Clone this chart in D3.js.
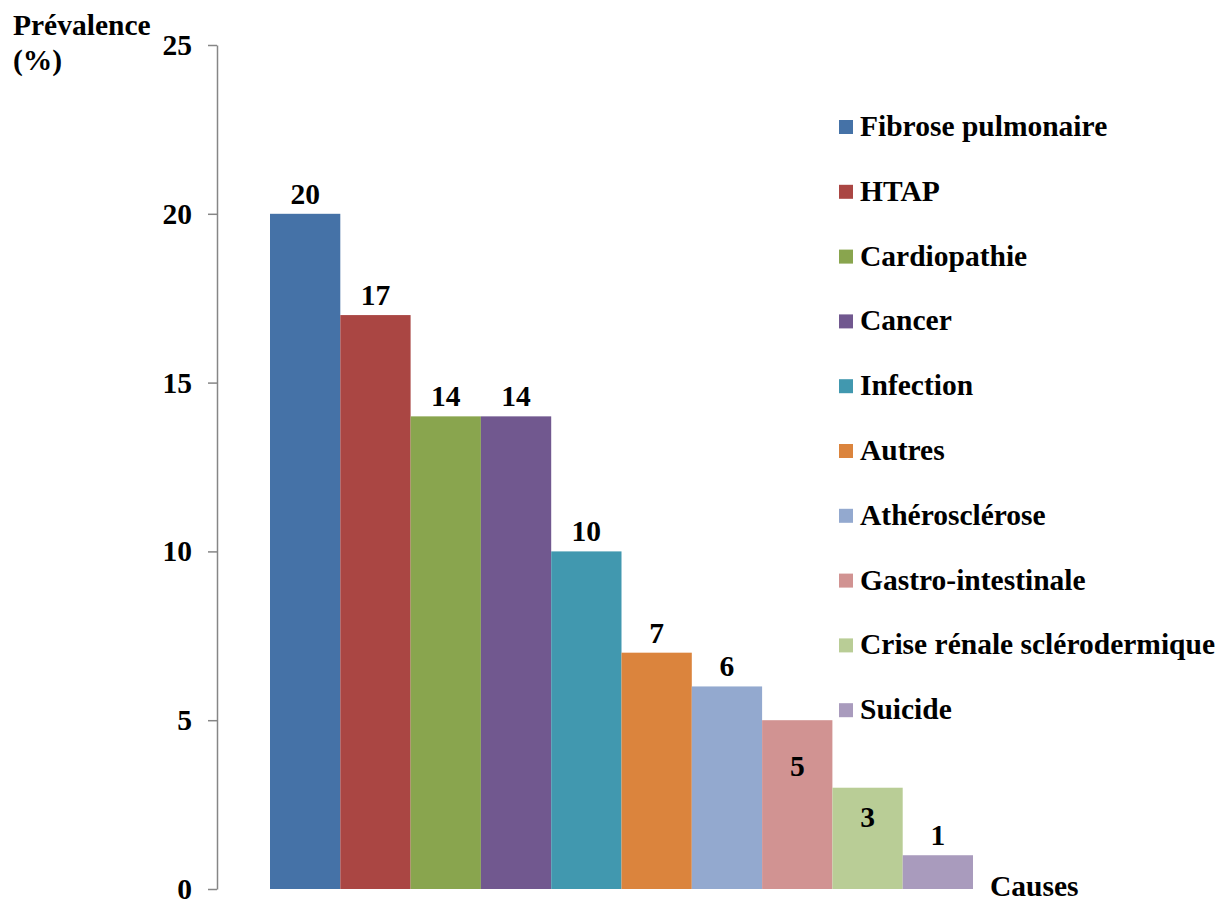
<!DOCTYPE html>
<html>
<head>
<meta charset="utf-8">
<script src="https://cdn.jsdelivr.net/npm/d3@7"></script>
<style>
  body { margin: 0; background: #fff; }
  text { font-family: "Liberation Serif", "Times New Roman", serif; font-weight: bold; fill: #000; }
</style>
</head>
<body>
<svg id="chart" width="1228" height="899"></svg>
<script>
// Data
const causes = ["Fibrose pulmonaire", "HTAP", "Cardiopathie", "Cancer", "Infection", "Autres",
    "Athérosclérose", "Gastro-intestinale", "Crise rénale sclérodermique", "Suicide"];
const prevalence = [20, 17, 14, 14, 10, 7, 6, 5, 3, 1];
const yTicks = [0, 5, 10, 15, 20, 25];
const colors = ["#4572A7", "#AA4643", "#89A54E", "#71588F", "#4198AF", "#DB843D",
    "#93A9CF", "#D19392", "#B9CD96", "#A99BBD"];

// label offsets from bar top (baseline), the two inside ones are placed lower
const labelDy = { "Gastro-intestinale": 56, "Crise rénale sclérodermique": 39 };

const svg = d3.select('#chart');
const fs = 29.5;

const y = d3.scaleLinear().domain([0, 25]).range([889, 45]);
const x = d3.scaleBand().domain(causes).range([270, 973]).padding(0);

// Y axis
const axis = svg.append('g')
    .attr('transform', 'translate(217,0)')
    .call(d3.axisLeft(y).tickValues(yTicks).tickSize(9).tickPadding(16).tickSizeOuter(0));
axis.select('.domain').attr('stroke', '#868686').attr('stroke-width', 1.5);
axis.selectAll('.tick line').attr('stroke', '#868686').attr('stroke-width', 1.5);
axis.selectAll('.tick text')
    .style('font-family', '"Liberation Serif", "Times New Roman", serif')
    .style('font-weight', 'bold')
    .style('font-size', fs + 'px')
    .attr('fill', '#000');

// Bars
svg.selectAll('rect.bar').data(causes).enter().append('rect')
    .attr('class', 'bar')
    .attr('x', d => x(d))
    .attr('y', (d, i) => y(prevalence[i]))
    .attr('width', x.bandwidth())
    .attr('height', (d, i) => y(0) - y(prevalence[i]))
    .attr('fill', (d, i) => colors[i]);

// Value labels
svg.selectAll('text.val').data(causes).enter().append('text')
    .attr('class', 'val')
    .attr('x', d => x(d) + x.bandwidth() / 2)
    .attr('y', (d, i) => y(prevalence[i]) + (labelDy[d] !== undefined ? labelDy[d] : -10))
    .attr('text-anchor', 'middle')
    .style('font-size', fs + 'px')
    .text((d, i) => prevalence[i]);

// Axis titles
const title = svg.append('text').attr('x', 13).style('font-size', fs + 'px');
title.append('tspan').attr('x', 13).attr('y', 35).text('Prévalence');
title.append('tspan').attr('x', 13).attr('y', 70).text('(%)');
svg.append('text').attr('x', 990).attr('y', 896).style('font-size', fs + 'px').text('Causes');

// Legend
const leg = svg.selectAll('g.leg').data(causes).enter().append('g')
    .attr('class', 'leg')
    .attr('transform', (d, i) => 'translate(839,' + (127 + i * 64.8) + ')');
leg.append('rect').attr('x', 0).attr('y', -7).attr('width', 14).attr('height', 14)
    .attr('fill', (d, i) => colors[i]);
leg.append('text').attr('x', 21).attr('y', 9).style('font-size', fs + 'px').text(d => d);
</script>
</body>
</html>
